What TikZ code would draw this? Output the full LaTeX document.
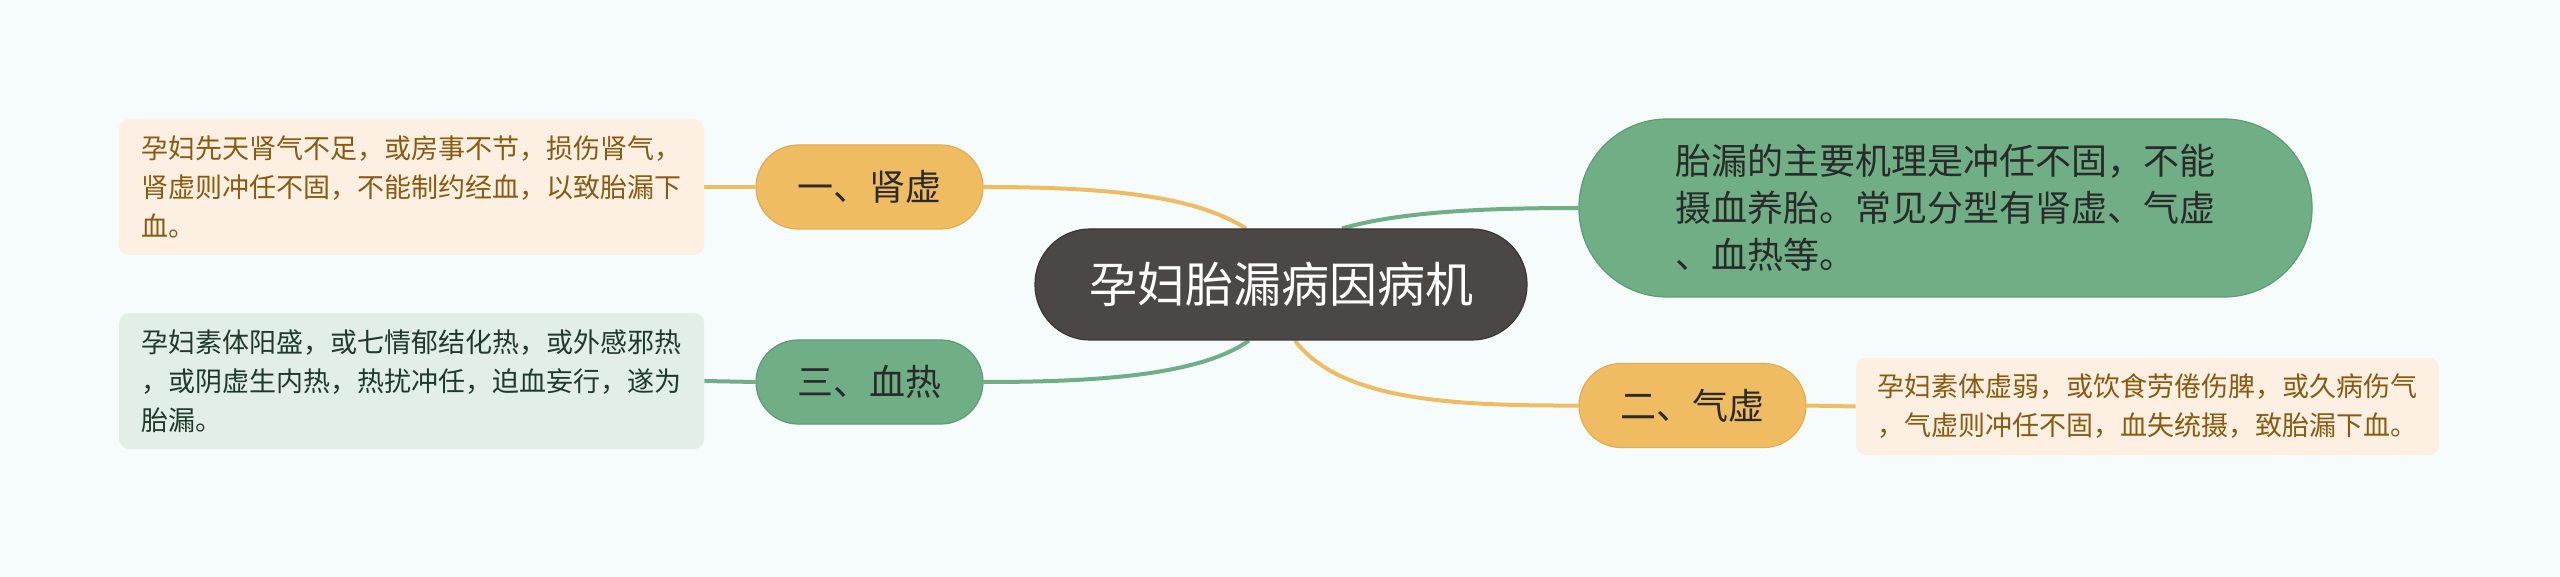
\documentclass[tikz,border=0pt]{standalone}
\usepackage{fontspec}
\setmainfont{Noto Sans CJK SC}
\usetikzlibrary{calc,backgrounds}
\definecolor{bg}{HTML}{F6FCFB}
\definecolor{orn}{HTML}{F0BC62}
\definecolor{ornd}{HTML}{E2AC52}
\definecolor{grn}{HTML}{70AF86}
\definecolor{grnd}{HTML}{5E9C74}
\definecolor{dark}{HTML}{4B4747}
\definecolor{darkd}{HTML}{3A3636}
\definecolor{obox}{HTML}{FDF0E2}
\definecolor{otxt}{HTML}{8A5A10}
\definecolor{gbox}{HTML}{E2EFE6}
\definecolor{gtxt}{HTML}{1F3A2A}
\definecolor{btxt}{HTML}{2A2A2A}
\tikzset{
  rootbox/.style={fill=dark, draw=darkd, line width=0.6pt, rounded corners=27.5pt,
    minimum width=246pt, minimum height=55.5pt, text=white,
    font=\fontsize{24pt}{28pt}\selectfont, inner sep=0pt},
  obranch/.style={fill=orn, draw=ornd, line width=0.6pt, rounded corners=21pt,
    minimum width=113.5pt, minimum height=42pt, text=btxt,
    font=\fontsize{18pt}{22pt}\selectfont, inner sep=0pt},
  gbranch/.style={obranch, fill=grn, draw=grnd},
  bigbranch/.style={fill=grn, draw=grnd, line width=0.6pt, rounded corners=44pt,
    minimum width=366.5pt, minimum height=89pt, text=btxt, align=left,
    font=\fontsize{18pt}{23.5pt}\selectfont, inner sep=0pt},
  obox/.style={fill=obox, rounded corners=5pt, text=otxt, align=left,
    font=\fontsize{13.5pt}{19.5pt}\selectfont, inner sep=0pt},
  gbox/.style={obox, fill=gbox, text=gtxt},
  oline/.style={draw=orn, line width=2pt},
  gline/.style={draw=grn, line width=2pt},
}
\begin{document}
\begin{tikzpicture}[x=0.5pt, y=-0.5pt]
\begin{scope}[on background layer]
\fill[bg] (0,0) rectangle (2560,577);
\end{scope}
\useasboundingbox (0,0) rectangle (2560,577);

\node[rootbox] (root) at (1281,284.5) {孕妇胎漏病因病机};
\node[obranch] (s1) at (869.5,187) {一、肾虚};
\node[gbranch] (s3) at (869.5,382) {三、血热};
\node[bigbranch] (g) at (1945.5,208) {胎漏的主要机理是冲任不固，不能\\摄血养胎。常见分型有肾虚、气虚\\、血热等。};
\node[obranch] (s2) at (1692.5,405.5) {二、气虚};

\node[obox, minimum width=292.5pt, minimum height=68pt] (b1) at (411.5,187) {孕妇先天肾气不足，或房事不节，损伤肾气，\\肾虚则冲任不固，不能制约经血，以致胎漏下\\血。};
\node[gbox, minimum width=292.5pt, minimum height=68pt] (b3) at (411.5,381) {孕妇素体阳盛，或七情郁结化热，或外感邪热\\，或阴虚生内热，热扰冲任，迫血妄行，遂为\\胎漏。};
\node[obox, minimum width=291.5pt, minimum height=48.5pt] (b2) at (2147.5,406.5) {孕妇素体虚弱，或饮食劳倦伤脾，或久病伤气\\，气虚则冲任不固，血失统摄，致胎漏下血。};

\begin{scope}[on background layer]
\draw[oline] ([xshift=-17.5pt]root.north) .. controls (1200,200) and (1130,187) .. (s1.east);
\draw[gline] ([xshift=30.5pt]root.north) .. controls (1400,212) and (1480,208) .. (g.west);
\draw[gline] ([xshift=-16pt]root.south) .. controls (1200,375) and (1100,382) .. (s3.east);
\draw[oline] ([xshift=7pt]root.south) .. controls (1340,400) and (1450,406) .. (s2.west);
\draw[oline] (s1.west) -- (b1.east);
\draw[gline] (s3.west) -- (b3.east);
\draw[oline] (s2.east) -- (b2.west);
\end{scope}
\end{tikzpicture}
\end{document}
